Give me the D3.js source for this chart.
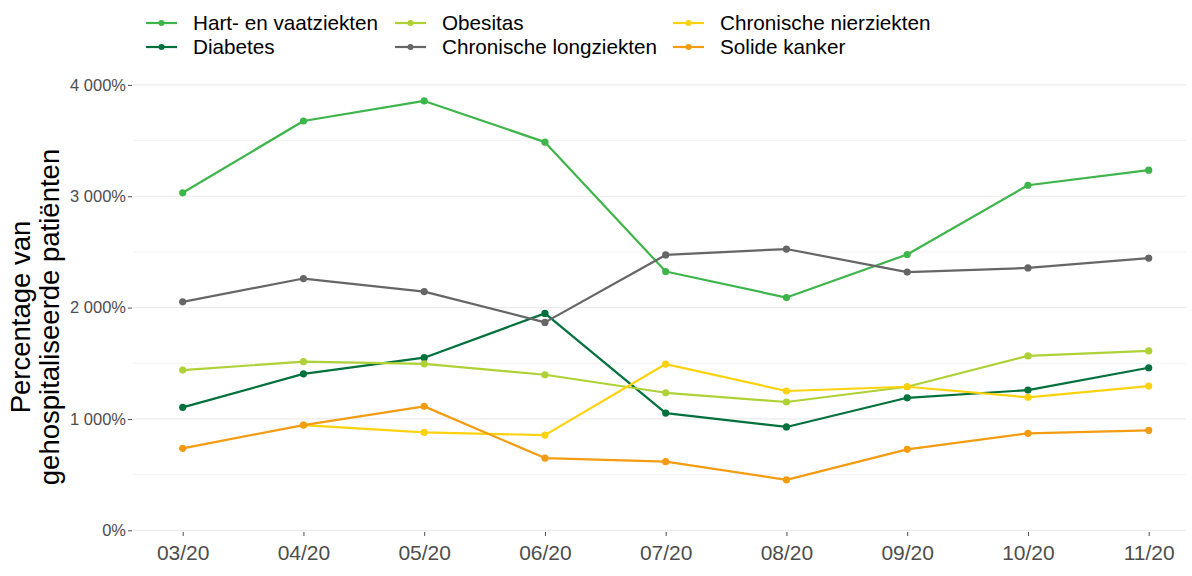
<!DOCTYPE html>
<html><head><meta charset="utf-8">
<script src="https://cdn.jsdelivr.net/npm/d3@7"></script>
<style>body{margin:0;background:#fff}svg{font-family:"Liberation Sans",Arial,sans-serif}</style>
</head><body><svg id="c" width="1192" height="576"></svg>
<script>
const months = ["03/20","04/20","05/20","06/20","07/20","08/20","09/20","10/20","11/20"];
const seriesNames = ["Hart- en vaatziekten","Diabetes","Obesitas","Chronische longziekten","Chronische nierziekten","Solide kanker"];
const colors = ["#3db54a","#00703c","#aed135","#666666","#fcd20f","#f39c12"];
const hart   = [3031,3676,3856,3486,2324,2090,2477,3099,3234];
const diab   = [1104,1405,1550,1948,1053,928,1190,1259,1460];
const obes   = [1439,1514,1495,1397,1235,1152,1289,1566,1611];
const long   = [2052,2261,2144,1867,2473,2526,2319,2356,2445];
const nier   = [null,945,880,855,1493,1251,1289,1194,1295];
const kanker = [736,945,1113,649,616,453,727,871,898];
const yTicks = [0,1000,2000,3000,4000];
const yMinor = [500,1500,2500,3500];
const values = [hart,diab,obes,long,nier,kanker];

const svg = d3.select("#c");
const x = d3.scalePoint().domain(months).range([182.7,1148.7]);
const y = d3.scaleLinear().domain([0,4000]).range([530.3,84.9]);
const loc = d3.formatLocale({decimal:",",thousands:"\u2009",grouping:[3],currency:["",""]});
const fmt = v => loc.format(",")(v).replace("\u2009"," ") + "%";

const gx0 = 133, gx1 = 1186;
svg.append("g").selectAll("line").data(yMinor).join("line")
  .attr("x1",gx0).attr("x2",gx1).attr("y1",d=>y(d)).attr("y2",d=>y(d))
  .attr("stroke","#f3f3f3").attr("stroke-width",1);
svg.append("g").selectAll("line").data(yTicks).join("line")
  .attr("x1",gx0).attr("x2",gx1).attr("y1",d=>y(d)).attr("y2",d=>y(d))
  .attr("stroke","#ebebeb").attr("stroke-width",1.2);

// y axis
const ya = svg.append("g").attr("transform","translate(132,0)")
  .call(d3.axisLeft(y).tickValues(yTicks).tickFormat(fmt).tickSize(4).tickPadding(2));
ya.select(".domain").remove();
ya.selectAll("line").attr("stroke","#4d4d4d");
ya.selectAll("text").attr("fill","#4d4d4d").style("font-size","16.5px").style("font-family","Liberation Sans, Arial, sans-serif");

// x axis
const xa = svg.append("g").attr("transform","translate(0,532)")
  .call(d3.axisBottom(x).tickSize(4).tickPadding(9));
xa.select(".domain").remove();
xa.selectAll("line").attr("stroke","#4d4d4d");
xa.selectAll("text").attr("fill","#4d4d4d").style("font-size","21px").style("font-family","Liberation Sans, Arial, sans-serif");

// y title
const yt = svg.append("text").attr("transform","translate(0,317) rotate(-90)")
  .attr("text-anchor","middle").attr("fill","#000").style("font-size","27.5px");
yt.append("tspan").attr("x",0).attr("y",30).text("Percentage van");
yt.append("tspan").attr("x",0).attr("y",59).text("gehospitaliseerde patiënten");

// lines
const line = d3.line().defined(d=>d.v!=null).x(d=>x(d.m)).y(d=>y(d.v));
values.forEach((vals,i)=>{
  const pts = months.map((m,j)=>({m, v: vals[j]}));
  const g = svg.append("g");
  g.append("path").datum(pts).attr("d",line).attr("fill","none")
    .attr("stroke",colors[i]).attr("stroke-width",2.2).attr("stroke-linejoin","round");
  g.selectAll("circle").data(pts.filter(d=>d.v!=null)).join("circle")
    .attr("cx",d=>x(d.m)).attr("cy",d=>y(d.v)).attr("r",3.6).attr("fill",colors[i]);
});

// legend
const legPos = [[146,23],[146,47],[395,23],[395,47],[673,23],[673,47]];
seriesNames.forEach((n,i)=>{
  const [lx,ly] = legPos[i];
  const g = svg.append("g").attr("transform",`translate(${lx},${ly})`);
  g.append("line").attr("x1",0).attr("x2",31).attr("stroke",colors[i]).attr("stroke-width",2.2);
  g.append("circle").attr("cx",15.5).attr("r",3).attr("fill",colors[i]);
  g.append("text").attr("x",47).attr("dy","0.35em").style("font-size","20.7px").attr("fill","#000").text(n);
});
</script></body></html>
